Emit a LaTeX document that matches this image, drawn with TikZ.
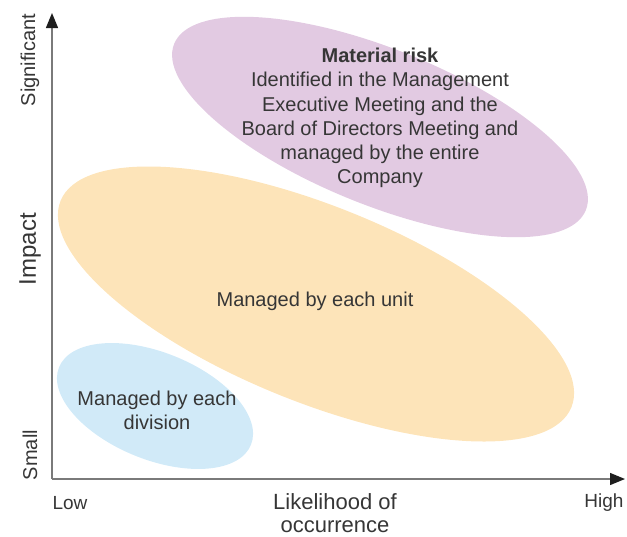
\documentclass[tikz,border=0pt]{standalone}
\usepackage{fontspec}
\setmainfont{Liberation Sans}
\usetikzlibrary{arrows.meta,shapes.geometric}
\definecolor{axisgray}{HTML}{7A7A7A}
\definecolor{tipblack}{HTML}{1E1E1E}
\definecolor{txt}{HTML}{363636}
\definecolor{lilac}{HTML}{E2CAE2}
\definecolor{peach}{HTML}{FDE4B9}
\definecolor{skyblue}{HTML}{D1EAF8}
\tikzset{
  blob/.style={ellipse, draw=none, inner sep=0pt, rotate=-22},
  lbl/.style={text=txt, font=\fontsize{19}{22}\selectfont, inner sep=0pt},
  body/.style={text=txt, font=\fontsize{20}{24.2}\selectfont, align=center, inner sep=0pt},
  axisline/.style={draw=axisgray, line width=1.3pt, -{Triangle[length=15pt,width=12pt,fill=tipblack,color=tipblack]}}
}
\begin{document}
\begin{tikzpicture}[x=1pt,y=-1pt]
\useasboundingbox (0,0) rectangle (627,536);
% risk regions
\node[blob, fill=lilac, minimum width=444pt, minimum height=156pt] (mat) at (380,127) {};
\node[blob, fill=peach, minimum width=551pt, minimum height=196pt] (unit) at (316,304) {};
\node[blob, fill=skyblue, minimum width=207pt, minimum height=107pt] (div) at (155,406) {};
% axes
\coordinate (origin) at (52,479);
\coordinate (ytip) at (52,13);
\coordinate (xtip) at (625,479);
\draw[axisline] (origin) -- (ytip);
\draw[axisline] (origin) -- (xtip);
% region texts
\node[body] (mattxt) at (380,118) {\textbf{Material risk}\\Identified in the Management\\Executive Meeting and the\\Board of Directors Meeting and\\managed by the entire\\Company};
\node[body] (unittxt) at (315,301) {Managed by each unit};
\node[body] (divtxt) at (157,410) {Managed by each\\division};
% axis labels
\node[text=txt, font=\fontsize{20}{22}\selectfont, rotate=90, inner sep=0pt] (sig) at (30,60) {Significant};
\node[text=txt, font=\fontsize{24}{26}\selectfont, rotate=90, inner sep=0pt] (imp) at (30,249) {Impact};
\node[text=txt, font=\fontsize{20}{22}\selectfont, rotate=90, inner sep=0pt] (small) at (30,455) {Small};
\node[lbl] (low) at (70,503) {Low};
\node[lbl] (high) at (604,503) {High};
\node[text=txt, font=\fontsize{22}{23}\selectfont, align=center, inner sep=0pt] (likely) at (335,513) {Likelihood of\\occurrence};
\end{tikzpicture}
\end{document}
